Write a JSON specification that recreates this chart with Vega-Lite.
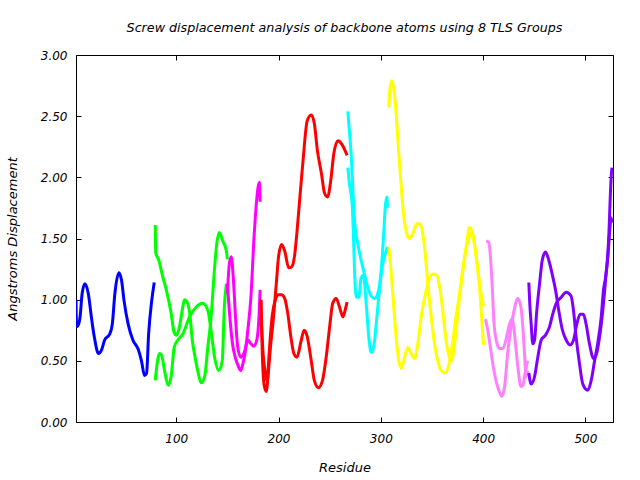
{
"$schema": "https://vega.github.io/schema/vega-lite/v6.json",
"width": 537, "height": 367,
"autosize": "none",
"padding": {"left": 76, "top": 55, "right": 27, "bottom": 58},
"background": "white",
"title": {"text": "Screw displacement analysis of backbone atoms using 8 TLS Groups", "font": "DejaVu Sans", "fontSize": 12.7, "fontStyle": "italic", "fontWeight": "normal", "color": "black", "offset": 14, "anchor": "middle"},
"config": {
  "view": {"stroke": "black", "strokeWidth": 1},
  "axis": {"grid": false, "domain": false, "labelFont": "DejaVu Sans", "labelFontStyle": "italic", "labelFontSize": 12, "labelColor": "black", "tickColor": "black", "tickSize": -5, "titleFont": "DejaVu Sans", "titleFontStyle": "italic", "titleFontWeight": "normal", "titleFontSize": 13, "titleColor": "black"}
},
"data": {"values": [
{"k":"B1","r":2,"v":1.00},{"k":"B1","r":2.5,"v":0.80},{"k":"B1","r":3.5,"v":0.78},{"k":"B1","r":6,"v":0.86},{"k":"B1","r":8,"v":1.05},{"k":"B1","r":10.7,"v":1.13},{"k":"B1","r":14,"v":1.05},{"k":"B1","r":17,"v":0.86},{"k":"B1","r":20,"v":0.69},{"k":"B1","r":24,"v":0.56},{"k":"B1","r":27,"v":0.59},{"k":"B1","r":30,"v":0.67},{"k":"B1","r":35,"v":0.72},{"k":"B1","r":37.5,"v":0.80},{"k":"B1","r":40,"v":1.05},{"k":"B1","r":44,"v":1.22},{"k":"B1","r":46.5,"v":1.16},{"k":"B1","r":49,"v":0.99},{"k":"B1","r":53,"v":0.80},{"k":"B1","r":57.6,"v":0.67},{"k":"B1","r":63,"v":0.59},{"k":"B1","r":66,"v":0.50},{"k":"B1","r":69,"v":0.38},{"k":"B1","r":71,"v":0.40},{"k":"B1","r":73,"v":0.72},{"k":"B1","r":76,"v":0.99},{"k":"B1","r":78.5,"v":1.14},
{"k":"G1","r":79.5,"v":1.61},{"k":"G1","r":80,"v":1.38},{"k":"G1","r":82.7,"v":1.33},{"k":"G1","r":87,"v":1.18},{"k":"G1","r":90,"v":1.09},{"k":"G1","r":95,"v":0.89},{"k":"G1","r":98,"v":0.73},{"k":"G1","r":100,"v":0.71},{"k":"G1","r":103,"v":0.77},{"k":"G1","r":106,"v":0.92},{"k":"G1","r":108,"v":1.00},{"k":"G1","r":110,"v":0.99},{"k":"G1","r":113,"v":0.90},{"k":"G1","r":116,"v":0.65},{"k":"G1","r":118,"v":0.55},{"k":"G1","r":121,"v":0.42},{"k":"G1","r":124.4,"v":0.32},{"k":"G1","r":127.7,"v":0.37},{"k":"G1","r":131,"v":0.62},{"k":"G1","r":134,"v":0.85},{"k":"G1","r":137.4,"v":1.25},{"k":"G1","r":139.5,"v":1.45},{"k":"G1","r":142,"v":1.55},{"k":"G1","r":145.5,"v":1.48},{"k":"G1","r":149,"v":1.40},{"k":"G1","r":150,"v":1.33},
{"k":"G2","r":79.5,"v":0.34},{"k":"G2","r":80.5,"v":0.42},{"k":"G2","r":83.7,"v":0.56},{"k":"G2","r":85.5,"v":0.55},{"k":"G2","r":88.6,"v":0.42},{"k":"G2","r":92,"v":0.30},{"k":"G2","r":95,"v":0.37},{"k":"G2","r":98,"v":0.61},{"k":"G2","r":101.6,"v":0.67},{"k":"G2","r":106.5,"v":0.72},{"k":"G2","r":113,"v":0.86},{"k":"G2","r":119.5,"v":0.94},{"k":"G2","r":126,"v":0.97},{"k":"G2","r":131,"v":0.91},{"k":"G2","r":134,"v":0.75},{"k":"G2","r":137.5,"v":0.53},{"k":"G2","r":141.7,"v":0.42},{"k":"G2","r":145,"v":0.50},{"k":"G2","r":147,"v":0.94},{"k":"G2","r":149,"v":1.13},
{"k":"M1","r":150,"v":1.05},{"k":"M1","r":152,"v":1.30},{"k":"M1","r":153.8,"v":1.35},{"k":"M1","r":156,"v":1.15},{"k":"M1","r":158,"v":0.85},{"k":"M1","r":160,"v":0.62},{"k":"M1","r":163,"v":0.53},{"k":"M1","r":167,"v":0.58},{"k":"M1","r":170,"v":0.67},{"k":"M1","r":173,"v":0.64},{"k":"M1","r":176,"v":0.62},{"k":"M1","r":179,"v":0.68},{"k":"M1","r":181,"v":0.88},{"k":"M1","r":182,"v":1.08},
{"k":"M2","r":150,"v":1.13},{"k":"M2","r":152,"v":0.90},{"k":"M2","r":155,"v":0.64},{"k":"M2","r":158,"v":0.52},{"k":"M2","r":161,"v":0.45},{"k":"M2","r":163,"v":0.42},{"k":"M2","r":165,"v":0.47},{"k":"M2","r":167,"v":0.55},{"k":"M2","r":170,"v":0.75},{"k":"M2","r":173,"v":1.02},{"k":"M2","r":176,"v":1.50},{"k":"M2","r":178,"v":1.75},{"k":"M2","r":180,"v":1.92},{"k":"M2","r":181.5,"v":1.96},{"k":"M2","r":182,"v":1.80},
{"k":"R1","r":183,"v":1.00},{"k":"R1","r":184,"v":0.60},{"k":"R1","r":186,"v":0.30},{"k":"R1","r":188,"v":0.25},{"k":"R1","r":190,"v":0.40},{"k":"R1","r":192,"v":0.60},{"k":"R1","r":195,"v":0.85},{"k":"R1","r":198,"v":1.15},{"k":"R1","r":200,"v":1.35},{"k":"R1","r":203,"v":1.45},{"k":"R1","r":206,"v":1.40},{"k":"R1","r":210,"v":1.26},{"k":"R1","r":213,"v":1.27},{"k":"R1","r":216,"v":1.38},{"k":"R1","r":218,"v":1.55},{"k":"R1","r":221,"v":1.85},{"k":"R1","r":224,"v":2.14},{"k":"R1","r":228,"v":2.46},{"k":"R1","r":232,"v":2.51},{"k":"R1","r":235,"v":2.44},{"k":"R1","r":238,"v":2.22},{"k":"R1","r":242,"v":2.03},{"k":"R1","r":245,"v":1.87},{"k":"R1","r":248,"v":1.84},{"k":"R1","r":251,"v":1.97},{"k":"R1","r":254,"v":2.19},{"k":"R1","r":258,"v":2.30},{"k":"R1","r":262,"v":2.27},{"k":"R1","r":265,"v":2.22},{"k":"R1","r":267,"v":2.18},
{"k":"R2","r":183,"v":0.85},{"k":"R2","r":185,"v":0.55},{"k":"R2","r":187,"v":0.40},{"k":"R2","r":189,"v":0.33},{"k":"R2","r":190,"v":0.45},{"k":"R2","r":192,"v":0.70},{"k":"R2","r":194,"v":0.88},{"k":"R2","r":197,"v":1.00},{"k":"R2","r":200,"v":1.04},{"k":"R2","r":203,"v":1.04},{"k":"R2","r":206,"v":1.01},{"k":"R2","r":209,"v":0.89},{"k":"R2","r":212,"v":0.70},{"k":"R2","r":215,"v":0.56},{"k":"R2","r":218,"v":0.53},{"k":"R2","r":222,"v":0.66},{"k":"R2","r":225,"v":0.75},{"k":"R2","r":228,"v":0.70},{"k":"R2","r":232,"v":0.50},{"k":"R2","r":235,"v":0.34},{"k":"R2","r":239,"v":0.28},{"k":"R2","r":243,"v":0.34},{"k":"R2","r":246.6,"v":0.53},{"k":"R2","r":250,"v":0.78},{"k":"R2","r":253,"v":0.97},{"k":"R2","r":256.4,"v":1.01},{"k":"R2","r":259.6,"v":0.94},{"k":"R2","r":263,"v":0.86},{"k":"R2","r":265,"v":0.91},{"k":"R2","r":267,"v":0.98},
{"k":"C1","r":267.8,"v":2.54},{"k":"C1","r":268.5,"v":2.46},{"k":"C1","r":271,"v":2.19},{"k":"C1","r":272.6,"v":1.92},{"k":"C1","r":274.3,"v":1.65},{"k":"C1","r":277.5,"v":1.46},{"k":"C1","r":280.8,"v":1.32},{"k":"C1","r":284,"v":1.21},{"k":"C1","r":287.3,"v":1.10},{"k":"C1","r":290.6,"v":1.03},{"k":"C1","r":293.8,"v":1.01},{"k":"C1","r":297,"v":1.05},{"k":"C1","r":300.4,"v":1.24},{"k":"C1","r":302.6,"v":1.51},{"k":"C1","r":304.6,"v":1.78},{"k":"C1","r":306,"v":1.84},{"k":"C1","r":306.5,"v":1.75},
{"k":"C2","r":267.8,"v":2.08},{"k":"C2","r":269,"v":1.97},{"k":"C2","r":272,"v":1.78},{"k":"C2","r":273.3,"v":1.51},{"k":"C2","r":274.3,"v":1.24},{"k":"C2","r":276,"v":1.02},{"k":"C2","r":278.5,"v":1.02},{"k":"C2","r":280.8,"v":1.18},{"k":"C2","r":283,"v":1.20},{"k":"C2","r":285.7,"v":0.97},{"k":"C2","r":288.3,"v":0.69},{"k":"C2","r":290.6,"v":0.57},{"k":"C2","r":293,"v":0.61},{"k":"C2","r":295.5,"v":0.80},{"k":"C2","r":298,"v":1.02},{"k":"C2","r":301.4,"v":1.27},{"k":"C2","r":305.3,"v":1.40},{"k":"C2","r":306.5,"v":1.43},
{"k":"Y1","r":307.8,"v":2.57},{"k":"Y1","r":309,"v":2.73},{"k":"Y1","r":310.8,"v":2.79},{"k":"Y1","r":312.7,"v":2.73},{"k":"Y1","r":315,"v":2.52},{"k":"Y1","r":317.6,"v":2.19},{"k":"Y1","r":320,"v":1.92},{"k":"Y1","r":322.2,"v":1.70},{"k":"Y1","r":324.8,"v":1.56},{"k":"Y1","r":328,"v":1.50},{"k":"Y1","r":331.3,"v":1.54},{"k":"Y1","r":335.2,"v":1.62},{"k":"Y1","r":338.5,"v":1.62},{"k":"Y1","r":341,"v":1.54},{"k":"Y1","r":343.7,"v":1.35},{"k":"Y1","r":346,"v":1.13},{"k":"Y1","r":349.3,"v":0.86},{"k":"Y1","r":352.5,"v":0.64},{"k":"Y1","r":355.7,"v":0.50},{"k":"Y1","r":359,"v":0.42},{"k":"Y1","r":363,"v":0.40},{"k":"Y1","r":366,"v":0.45},{"k":"Y1","r":368.5,"v":0.55},{"k":"Y1","r":373,"v":0.83},{"k":"Y1","r":377,"v":1.05},{"k":"Y1","r":380,"v":1.24},{"k":"Y1","r":383.5,"v":1.43},{"k":"Y1","r":386.7,"v":1.59},{"k":"Y1","r":389,"v":1.57},{"k":"Y1","r":392,"v":1.43},{"k":"Y1","r":395,"v":1.24},{"k":"Y1","r":398,"v":1.05},{"k":"Y1","r":400.5,"v":0.95},
{"k":"Y2","r":307.8,"v":1.43},{"k":"Y2","r":310,"v":1.24},{"k":"Y2","r":312.4,"v":0.97},{"k":"Y2","r":315,"v":0.69},{"k":"Y2","r":317.6,"v":0.50},{"k":"Y2","r":320,"v":0.44},{"k":"Y2","r":323.2,"v":0.53},{"k":"Y2","r":326.4,"v":0.61},{"k":"Y2","r":329.7,"v":0.56},{"k":"Y2","r":333,"v":0.52},{"k":"Y2","r":336.2,"v":0.64},{"k":"Y2","r":339.5,"v":0.86},{"k":"Y2","r":343.7,"v":1.05},{"k":"Y2","r":347,"v":1.16},{"k":"Y2","r":350.8,"v":1.21},{"k":"Y2","r":354.7,"v":1.20},{"k":"Y2","r":358,"v":1.08},{"k":"Y2","r":360.6,"v":0.91},{"k":"Y2","r":363,"v":0.72},{"k":"Y2","r":366,"v":0.56},{"k":"Y2","r":369,"v":0.50},{"k":"Y2","r":371,"v":0.56},{"k":"Y2","r":374,"v":0.78},{"k":"Y2","r":377,"v":1.02},{"k":"Y2","r":380,"v":1.22},{"k":"Y2","r":383,"v":1.40},{"k":"Y2","r":386,"v":1.50},{"k":"Y2","r":388.5,"v":1.55},{"k":"Y2","r":391,"v":1.48},{"k":"Y2","r":394,"v":1.30},{"k":"Y2","r":397,"v":1.05},{"k":"Y2","r":399,"v":0.80},{"k":"Y2","r":400.5,"v":0.63},
{"k":"P1","r":403,"v":1.48},{"k":"P1","r":405.6,"v":1.47},{"k":"P1","r":407,"v":1.37},{"k":"P1","r":409,"v":1.10},{"k":"P1","r":410.5,"v":0.83},{"k":"P1","r":412.8,"v":0.67},{"k":"P1","r":416,"v":0.60},{"k":"P1","r":419.3,"v":0.60},{"k":"P1","r":422.6,"v":0.68},{"k":"P1","r":425.8,"v":0.80},{"k":"P1","r":428.4,"v":0.84},{"k":"P1","r":431,"v":0.70},{"k":"P1","r":434,"v":0.45},{"k":"P1","r":437,"v":0.29},{"k":"P1","r":439,"v":0.30},{"k":"P1","r":441,"v":0.40},{"k":"P1","r":443.5,"v":0.50},
{"k":"P2","r":402.4,"v":0.84},{"k":"P2","r":404.6,"v":0.75},{"k":"P2","r":408,"v":0.56},{"k":"P2","r":411,"v":0.40},{"k":"P2","r":415.3,"v":0.26},{"k":"P2","r":418.3,"v":0.21},{"k":"P2","r":421,"v":0.29},{"k":"P2","r":424,"v":0.56},{"k":"P2","r":426.8,"v":0.75},{"k":"P2","r":430,"v":0.90},{"k":"P2","r":434,"v":1.01},{"k":"P2","r":437,"v":0.94},{"k":"P2","r":438.8,"v":0.78},{"k":"P2","r":440.5,"v":0.56},{"k":"P2","r":442,"v":0.37},{"k":"P2","r":443.5,"v":0.42},
{"k":"U1","r":444.7,"v":1.14},{"k":"U1","r":445.5,"v":0.99},{"k":"U1","r":447,"v":0.80},{"k":"U1","r":448.6,"v":0.64},{"k":"U1","r":450.3,"v":0.67},{"k":"U1","r":452.5,"v":0.91},{"k":"U1","r":455.2,"v":1.13},{"k":"U1","r":457.8,"v":1.32},{"k":"U1","r":461,"v":1.39},{"k":"U1","r":464.3,"v":1.32},{"k":"U1","r":467.5,"v":1.21},{"k":"U1","r":470.8,"v":1.08},{"k":"U1","r":474,"v":0.91},{"k":"U1","r":477.3,"v":0.76},{"k":"U1","r":481.2,"v":0.67},{"k":"U1","r":485,"v":0.63},{"k":"U1","r":488.4,"v":0.67},{"k":"U1","r":491.6,"v":0.80},{"k":"U1","r":494.9,"v":0.88},{"k":"U1","r":498.1,"v":0.88},{"k":"U1","r":500.7,"v":0.80},{"k":"U1","r":504,"v":0.64},{"k":"U1","r":508,"v":0.52},{"k":"U1","r":511,"v":0.56},{"k":"U1","r":513.8,"v":0.69},{"k":"U1","r":517,"v":0.91},{"k":"U1","r":519.7,"v":1.16},{"k":"U1","r":523,"v":1.54},{"k":"U1","r":524.2,"v":1.81},{"k":"U1","r":525.2,"v":2.00},{"k":"U1","r":526,"v":2.08},
{"k":"U2","r":444.7,"v":0.40},{"k":"U2","r":447,"v":0.31},{"k":"U2","r":450.3,"v":0.37},{"k":"U2","r":453.5,"v":0.53},{"k":"U2","r":456.8,"v":0.67},{"k":"U2","r":461,"v":0.71},{"k":"U2","r":465,"v":0.78},{"k":"U2","r":468,"v":0.88},{"k":"U2","r":471.5,"v":0.97},{"k":"U2","r":476.4,"v":1.02},{"k":"U2","r":481.2,"v":1.06},{"k":"U2","r":486,"v":1.03},{"k":"U2","r":488.4,"v":0.91},{"k":"U2","r":491,"v":0.69},{"k":"U2","r":494.2,"v":0.48},{"k":"U2","r":497.5,"v":0.31},{"k":"U2","r":502.4,"v":0.26},{"k":"U2","r":505.7,"v":0.34},{"k":"U2","r":509,"v":0.50},{"k":"U2","r":512,"v":0.64},{"k":"U2","r":515.5,"v":0.86},{"k":"U2","r":517.7,"v":1.08},{"k":"U2","r":519.7,"v":1.18},{"k":"U2","r":522,"v":1.35},{"k":"U2","r":523.6,"v":1.54},{"k":"U2","r":525.2,"v":1.67},{"k":"U2","r":526,"v":1.63}
]},
"layer": [
  {"mark": {"type": "line", "strokeWidth": 3, "interpolate": "monotone", "clip": true},
   "encoding": {
     "x": {"field": "r", "type": "quantitative", "scale": {"domain": [2, 527], "nice": false, "zero": false}, "axis": {"values": [100, 200, 300, 400, 500], "title": "Residue", "labelPadding": 16, "titlePadding": 17}},
     "y": {"field": "v", "type": "quantitative", "scale": {"domain": [0, 3], "nice": false}, "axis": {"values": [0, 0.5, 1, 1.5, 2, 2.5, 3], "format": ".2f", "title": "Angstroms Displacement", "labelPadding": 14, "titlePadding": 21}},
     "color": {"field": "k", "type": "nominal", "legend": null, "scale": {"domain": ["B1","G1","G2","M1","M2","R1","R2","C1","C2","Y1","Y2","P1","P2","U1","U2"], "range": ["#0000ff","#00ff00","#00ff00","#ff00ff","#ff00ff","#ff0000","#ff0000","#00ffff","#00ffff","#ffff00","#ffff00","#ff80ff","#ff80ff","#8000ff","#8000ff"]}}
   }},
  {"mark": {"type": "line", "opacity": 0},
   "encoding": {
     "x": {"field": "r", "type": "quantitative", "axis": {"orient": "top", "values": [100, 200, 300, 400, 500], "labels": false, "title": null}},
     "y": {"field": "v", "type": "quantitative", "axis": {"orient": "right", "values": [0, 0.5, 1, 1.5, 2, 2.5, 3], "labels": false, "title": null}},
     "detail": {"field": "k"}
   }}
],
"resolve": {"axis": {"x": "independent", "y": "independent"}}
}
